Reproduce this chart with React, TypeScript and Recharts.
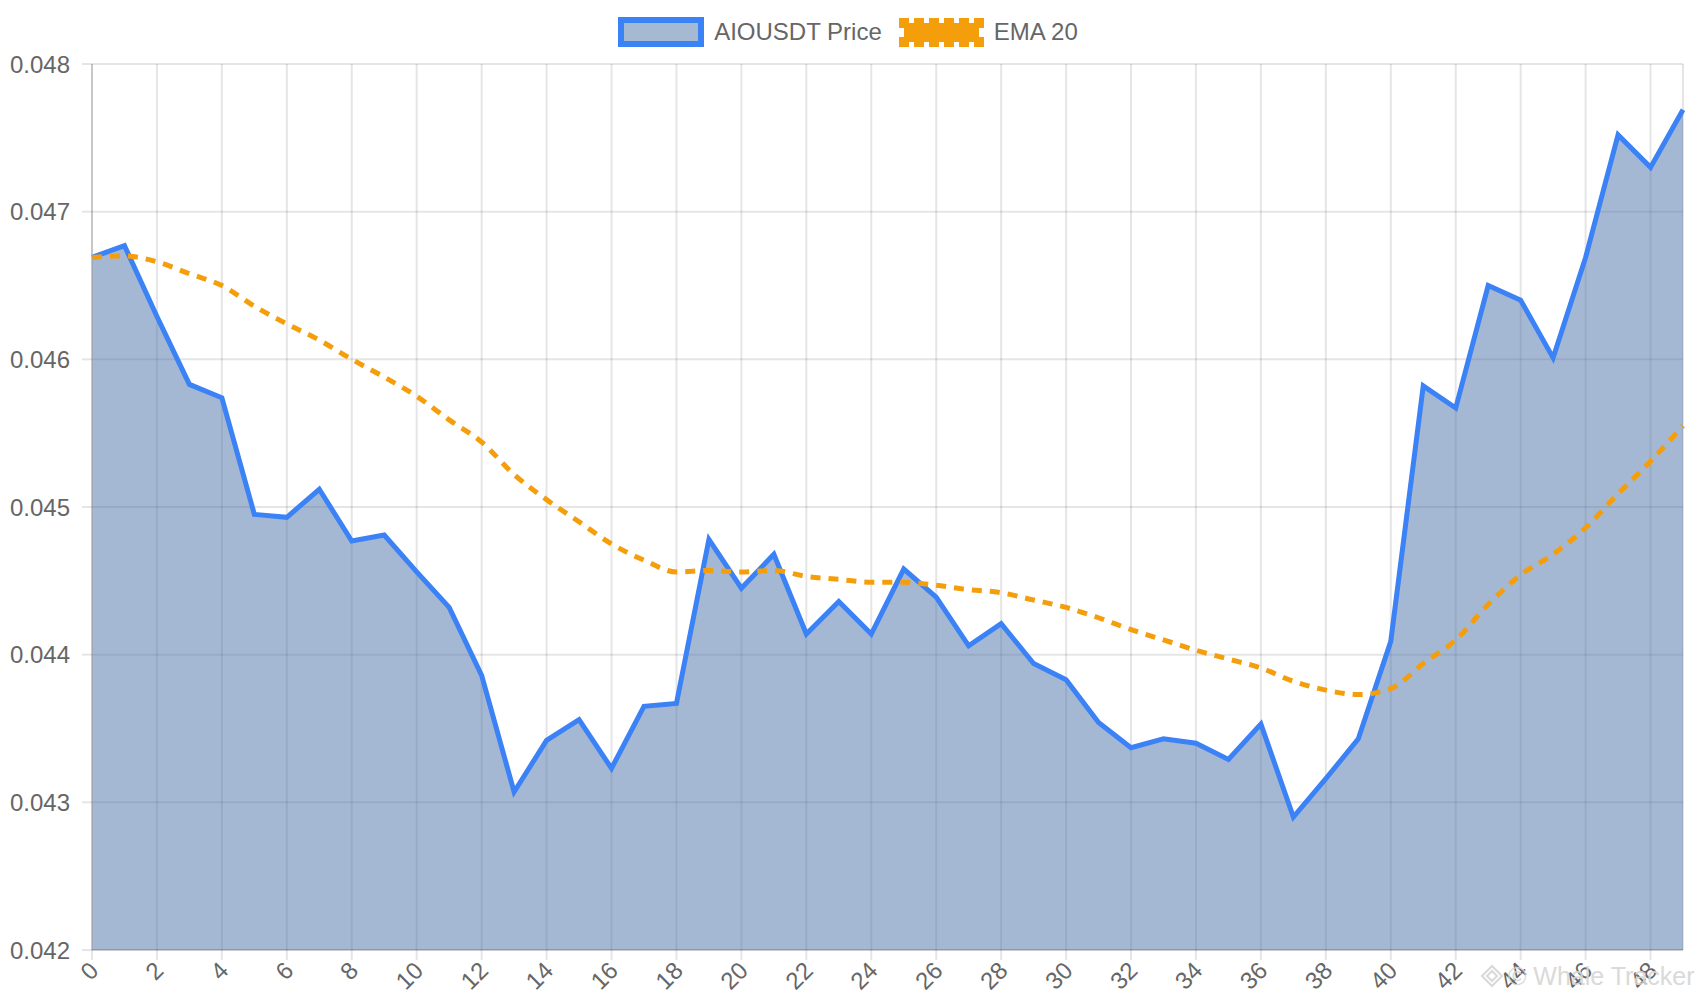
import { ComposedChart, Area, Line, XAxis, YAxis, CartesianGrid } from 'recharts';

const indices = [
  0, 1, 2, 3, 4, 5, 6, 7, 8, 9, 10, 11, 12, 13, 14, 15, 16, 17, 18, 19, 20, 21, 22, 23, 24,
  25, 26, 27, 28, 29, 30, 31, 32, 33, 34, 35, 36, 37, 38, 39, 40, 41, 42, 43, 44, 45, 46, 47, 48, 49,
];

const price = [
  0.04669, 0.04677, 0.04629, 0.04583, 0.04574, 0.04495, 0.04493, 0.04512, 0.04477, 0.04481,
  0.04456, 0.04432, 0.04386, 0.04307, 0.04342, 0.04356, 0.04323, 0.04365, 0.04367, 0.04478,
  0.04445, 0.04468, 0.04414, 0.04436, 0.04414, 0.04458, 0.04439, 0.04406, 0.04421, 0.04394,
  0.04383, 0.04354, 0.04337, 0.04343, 0.0434, 0.04329, 0.04353, 0.0429, 0.04316, 0.04343,
  0.04409, 0.04582, 0.04567, 0.0465, 0.0464, 0.04601, 0.04669, 0.04752, 0.0473, 0.04769,
];

const ema20 = [
  0.04669, 0.0467, 0.04666, 0.04658, 0.0465, 0.04636, 0.04624, 0.04613, 0.046, 0.04588,
  0.04575, 0.04559, 0.04544, 0.04522, 0.04505, 0.0449, 0.04475, 0.04464, 0.04456, 0.04457,
  0.04456, 0.04457, 0.04453, 0.04451, 0.04449, 0.04449, 0.04447, 0.04444, 0.04442, 0.04437,
  0.04432, 0.04425, 0.04417, 0.0441, 0.04403, 0.04397, 0.04391, 0.04382, 0.04376, 0.04373,
  0.04377, 0.04394, 0.0441, 0.04434, 0.04454, 0.04468, 0.04486, 0.04509, 0.04531, 0.04555,
];

const yTicks = [0.042, 0.043, 0.044, 0.045, 0.046, 0.047, 0.048];
const xLabels = [0, 2, 4, 6, 8, 10, 12, 14, 16, 18, 20, 22, 24, 26, 28, 30, 32, 34, 36, 38, 40, 42, 44, 46, 48];

const data = indices.map((i, k) => ({ i, price: price[k], ema: ema20[k] }));

const FONT = '"Liberation Sans", Arial, Helvetica, sans-serif';
const TEXT = '#666666';
const GRID = 'rgba(0,0,0,0.1)';

function XTick(props: any) {
  const { x, y, payload } = props;
  const ax = x + 2;
  const ay = y + 16;
  return (
    <g>
      <line x1={x} y1={y} x2={x} y2={y + 10} stroke={GRID} strokeWidth={2} />
      <text
        x={ax}
        y={ay}
        transform={`rotate(-45, ${ax}, ${ay})`}
        textAnchor="end"
        dominantBaseline="central"
        fill={TEXT}
        fontSize={24}
        fontFamily={FONT}
      >
        {payload.value}
      </text>
    </g>
  );
}

function LegendBar() {
  const item = { display: 'flex', alignItems: 'center' } as const;
  const label = { marginLeft: 10, fontSize: 24, color: TEXT, fontFamily: FONT } as const;
  return (
    <div
      style={{
        position: 'absolute',
        left: 0,
        top: 17,
        width: 1696,
        display: 'flex',
        justifyContent: 'center',
        pointerEvents: 'none',
      }}
    >
      <div style={item}>
        <div
          style={{
            width: 74,
            height: 18,
            border: '6px solid #3b82f6',
            background: '#a6b9d3',
          }}
        />
        <span style={label}>AIOUSDT Price</span>
      </div>
      <div style={{ ...item, marginLeft: 17 }}>
        <div
          style={{
            width: 75,
            height: 19,
            border: '5px dashed #f59e0b',
            background: '#f59e0b',
            backgroundClip: 'padding-box',
          }}
        />
        <span style={label}>EMA 20</span>
      </div>
    </div>
  );
}

export default function App() {
  return (
    <div style={{ position: 'absolute', left: 0, top: 0, width: 1700, height: 1000, background: '#fff' }}>
      <ComposedChart
        width={1700}
        height={1000}
        data={data}
        margin={{ top: 64, right: 17, left: 0, bottom: 0 }}
      >
        <XAxis
          dataKey="i"
          type="number"
          domain={[0, 49]}
          ticks={xLabels}
          interval={0}
          height={50}
          tickSize={0}
          tickMargin={0}
          tickLine={false}
          axisLine={{ stroke: GRID, strokeWidth: 2 }}
          tick={<XTick />}
        />
        <YAxis
          type="number"
          domain={[0.042, 0.048]}
          ticks={yTicks}
          width={92}
          tickSize={10}
          tickMargin={12}
          tickLine={{ stroke: GRID, strokeWidth: 2 }}
          axisLine={{ stroke: '#a8a8a8', strokeWidth: 1 }}
          tickFormatter={(v: number) => v.toFixed(3)}
          tick={{ fill: TEXT, fontSize: 24, fontFamily: FONT }}
        />
        <Area
          type="linear"
          dataKey="price"
          stroke="#3b82f6"
          strokeWidth={5}
          fill="#4c72a8"
          fillOpacity={0.5}
          dot={false}
          activeDot={false}
          isAnimationActive={false}
        />
        <CartesianGrid stroke={GRID} strokeWidth={2} />
        <Line
          type="monotone"
          dataKey="ema"
          stroke="#f59e0b"
          strokeWidth={5}
          strokeDasharray="10 8"
          dot={false}
          activeDot={false}
          isAnimationActive={false}
        />
      </ComposedChart>
      <LegendBar />
      <svg style={{ position: 'absolute', left: 1478, top: 958 }} width={220} height={36}>
        <g opacity={0.55} fill="none" stroke="#bbbbbb" strokeWidth={2}>
          <path d="M4 18 L14 8 L24 18 L14 28 Z" />
          <path d="M9 18 L14 13 L19 18 L14 23 Z" />
        </g>
        <text x={30} y={27} fill="#d6d6d6" opacity={0.9} fontSize={25} fontFamily={FONT}>
          © Whale Tracker
        </text>
      </svg>
    </div>
  );
}
